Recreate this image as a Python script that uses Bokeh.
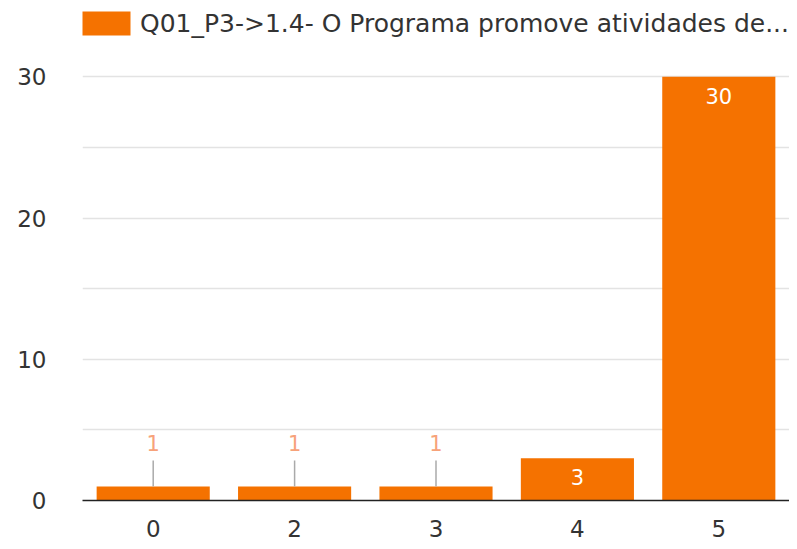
from bokeh.plotting import figure
from bokeh.models import ColumnDataSource, FixedTicker, Legend, LegendItem
from bokeh.core.properties import value
from bokeh.embed import file_html
from bokeh.resources import INLINE
import math

categories = ["0", "2", "3", "4", "5"]
counts = [1, 1, 1, 3, 30]
series_name = "Q01_P3->1.4- O Programa promove atividades de..."

ORANGE = "#f57200"
FONT = "DejaVu Sans"

inside = [c >= 3 for c in counts]
src = ColumnDataSource(dict(cat=categories, val=counts, txt=[str(c) for c in counts]))
src_in = ColumnDataSource(dict(cat=[c for c, i in zip(categories, inside) if i],
                               val=[v for v, i in zip(counts, inside) if i],
                               txt=[str(v) for v, i in zip(counts, inside) if i]))
src_out = ColumnDataSource(dict(cat=[c for c, i in zip(categories, inside) if not i],
                                val=[v for v, i in zip(counts, inside) if not i],
                                txt=[str(v) for v, i in zip(counts, inside) if not i]))

p = figure(x_range=categories, y_range=(0, 35.4), width=789, height=541,
           output_backend="svg", toolbar_location=None,
           min_border_left=82, min_border_right=0, min_border_top=0, min_border_bottom=41)
p.outline_line_color = None

r = p.vbar(x="cat", top="val", width=0.8, source=src, fill_color=ORANGE, line_color=None)

p.ray(x="cat", y="val", length=26, length_units="screen", angle=math.pi / 2,
      source=src_out, line_color="#aaaaaa", line_width=1.5)
p.text(x="cat", y="val", text="txt", source=src_out, y_offset=-43,
       text_align="center", text_baseline="middle", text_color="#f7a27a",
       text_font=value(FONT), text_font_size="21px")
p.text(x="cat", y="val", text="txt", source=src_in, y_offset=19,
       text_align="center", text_baseline="middle", text_color="white",
       text_font=value(FONT), text_font_size="21px")

p.yaxis.ticker = FixedTicker(ticks=[0, 10, 20, 30], minor_ticks=[5, 15, 25])
p.ygrid.grid_line_color = "#e3e3e3"
p.ygrid.grid_line_width = 1.5
p.ygrid.minor_grid_line_color = "#e3e3e3"
p.ygrid.minor_grid_line_width = 1.5
p.xgrid.grid_line_color = None

for ax in (p.xaxis, p.yaxis):
    ax.major_tick_line_color = None
    ax.minor_tick_line_color = None
    ax.major_label_text_font = FONT
    ax.major_label_text_font_size = "23px"
    ax.major_label_text_color = "#333333"
p.yaxis.axis_line_color = None
p.yaxis.major_label_standoff = 30
p.xaxis.axis_line_color = "#222222"
p.xaxis.axis_line_width = 1.5
p.xaxis.major_label_standoff = 13

legend = Legend(items=[LegendItem(label=series_name, renderers=[r])],
                location=(-6, 462), glyph_width=60, glyph_height=30,
                label_text_font=FONT, label_text_font_size="25px",
                label_text_color="#333333", background_fill_alpha=0,
                border_line_color=None, padding=0, margin=0, spacing=0,
                label_standoff=4, label_height=30)
p.add_layout(legend)

open("out.html", "w").write(file_html(p, INLINE))
